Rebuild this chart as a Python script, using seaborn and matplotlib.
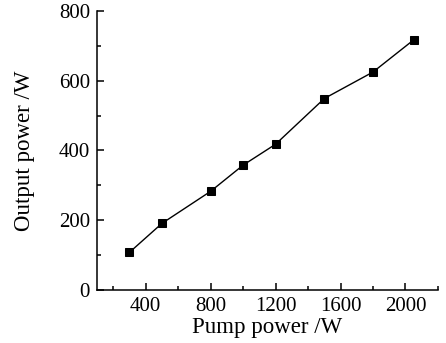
import matplotlib
matplotlib.use("Agg")
import matplotlib.pyplot as plt
import seaborn as sns
import pandas as pd
from matplotlib.ticker import MultipleLocator

pump_power = [300, 500, 800, 1000, 1200, 1500, 1800, 2050]
output_power = [108, 191, 283, 358, 418, 549, 625, 717]
x_ticks = [400, 800, 1200, 1600, 2000]
y_ticks = [0, 200, 400, 600, 800]

sns.set_theme(style="ticks")
plt.rcParams['font.family'] = ['Liberation Serif', 'DejaVu Serif']

df = pd.DataFrame({"pump": pump_power, "out": output_power})

fig = plt.figure(figsize=(4.46, 3.43), dpi=100)
ax = fig.add_axes([0.2175, 0.1545, 0.7645, 0.8135])
sns.lineplot(data=df, x="pump", y="out", ax=ax, color="black", linewidth=1.0,
             marker="s", markersize=5.5, markeredgecolor="black", markerfacecolor="black")
ax.set_xlim(100, 2200)
ax.set_ylim(0, 800)
ax.set_xticks(x_ticks)
ax.set_yticks(y_ticks)
ax.xaxis.set_minor_locator(MultipleLocator(200))
ax.yaxis.set_minor_locator(MultipleLocator(100))
ax.tick_params(which="both", direction="in", color="black", width=1.1)
ax.tick_params(which="major", length=5, labelsize=15, labelcolor="black", pad=5)
ax.tick_params(which="minor", length=3)
for s in ["top", "right"]:
    ax.spines[s].set_visible(False)
for s in ["left", "bottom"]:
    ax.spines[s].set_color("black")
    ax.spines[s].set_linewidth(1.1)
ax.set_xlabel("Pump power /W", fontsize=16.5, color="black", labelpad=1)
ax.set_ylabel("Output power /W", fontsize=16.5, color="black", labelpad=17)
fig.savefig("out.png", dpi=100)
